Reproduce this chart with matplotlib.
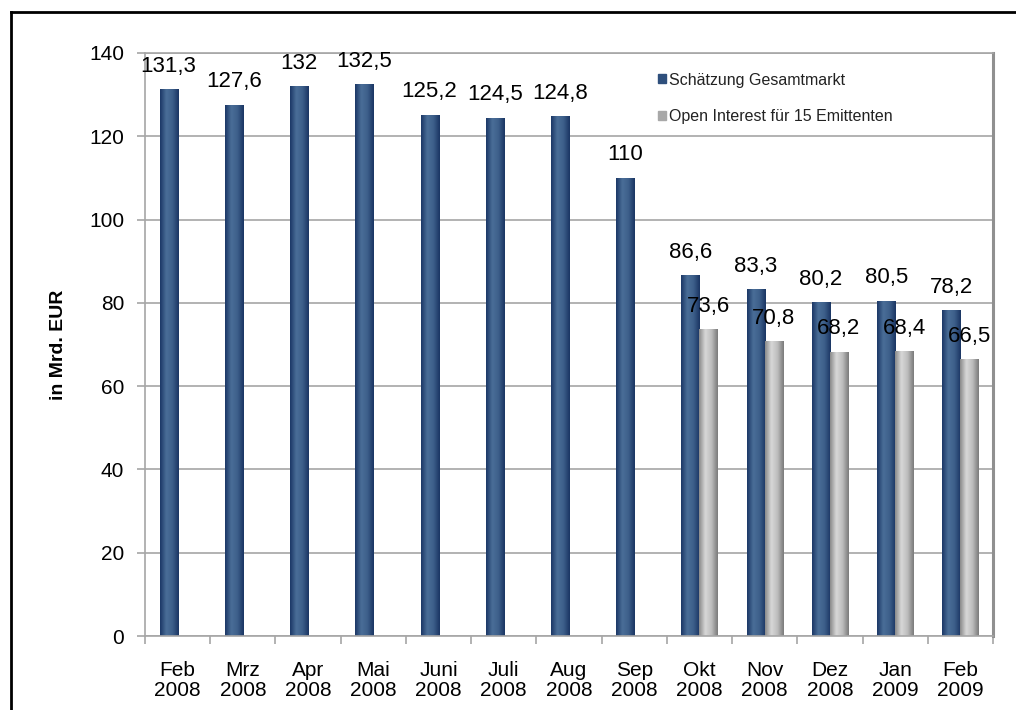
import matplotlib.pyplot as plt
import matplotlib.colors as mcolors
from matplotlib.lines import Line2D
import numpy as np

plt.rcParams['font.family'] = ['Liberation Sans', 'DejaVu Sans']

months = ['Feb', 'Mrz', 'Apr', 'Mai', 'Juni', 'Juli', 'Aug', 'Sep',
          'Okt', 'Nov', 'Dez', 'Jan', 'Feb']
years = ['2008'] * 11 + ['2009'] * 2
gesamtmarkt = [131.3, 127.6, 132, 132.5, 125.2, 124.5, 124.8, 110,
               86.6, 83.3, 80.2, 80.5, 78.2]
open_interest = [None] * 8 + [73.6, 70.8, 68.2, 68.4, 66.5]

series_names = ['Schätzung Gesamtmarkt', 'Open Interest für 15 Emittenten']


def fmt(v):
    s = ('%.1f' % v).rstrip('0').rstrip('.')
    return s.replace('.', ',')


blue_cmap = mcolors.LinearSegmentedColormap.from_list(
    'blue_bar', ['#1b3766', '#4a6e98', '#3d5f8a', '#1a3563'])
gray_cmap = mcolors.LinearSegmentedColormap.from_list(
    'gray_bar', ['#8a8a8a', '#d8d8d8', '#bdbdbd', '#7a7a7a'])
grad = np.linspace(0, 1, 64).reshape(1, -1)


def shaded_bars(ax, xs, vals, width, cmap, base_color):
    bars = ax.bar(xs, vals, width=width, align='edge', color=base_color,
                  linewidth=0, zorder=2)
    for b in bars:
        x0, w, h = b.get_x(), b.get_width(), b.get_height()
        im = ax.imshow(grad, extent=[x0, x0 + w, 0, h], aspect='auto',
                       cmap=cmap, interpolation='bicubic', zorder=2.1)
        im.set_clip_path(b)
    return bars


fig = plt.figure(figsize=(10.16, 7.10), dpi=100)
ax = fig.add_axes([0.1427, 0.1042, 0.8347, 0.8212])

n = len(months)
x = np.arange(n)
w = 0.276

shaded_bars(ax, x - w, gesamtmarkt, w, blue_cmap, '#2e4f7c')
oi_idx = [i for i, v in enumerate(open_interest) if v is not None]
oi_vals = [open_interest[i] for i in oi_idx]
shaded_bars(ax, np.array(oi_idx, dtype=float), oi_vals, w, gray_cmap, '#b0b0b0')

for i, v in enumerate(gesamtmarkt):
    ax.annotate(fmt(v), (x[i] - w / 2, v), xytext=(0, 9),
                textcoords='offset points', ha='center', va='bottom',
                fontsize=16, color='black', zorder=4)
for i, v in zip(oi_idx, oi_vals):
    ax.annotate(fmt(v), (x[i] + w / 2, v), xytext=(0, 9),
                textcoords='offset points', ha='center', va='bottom',
                fontsize=16, color='black', zorder=4)

ax.set_xlim(-0.5, n - 0.5)
ax.set_ylim(0, 140)
ax.set_yticks(np.arange(0, 141, 20))
ax.yaxis.grid(True, color='#a6a6a6', linewidth=1.2, zorder=0)
ax.set_axisbelow(True)

ax.set_xticks(np.arange(-0.5, n, 1.0))
ax.set_xticklabels([])
ax.set_xticks(x, minor=True)
ax.set_xticklabels([m + '\n' + y for m, y in zip(months, years)], minor=True,
                   fontsize=15, linespacing=1.08)
ax.tick_params(axis='x', which='minor', length=0, pad=18)
ax.tick_params(axis='x', which='major', length=6, color='#a6a6a6', width=1.2)
ax.tick_params(axis='y', length=6, color='#a6a6a6', width=1.2,
               labelsize=15, pad=9)

for side in ['left', 'bottom', 'top']:
    ax.spines[side].set_color('#a6a6a6')
    ax.spines[side].set_linewidth(1.2)
ax.spines['right'].set_color('#909090')
ax.spines['right'].set_linewidth(2.2)

ax.set_ylabel('in Mrd. EUR', fontsize=14, fontweight='bold')
ax.yaxis.set_label_coords(-0.092, 0.5)

# legend entries (no frame)
handles = [plt.Rectangle((0, 0), 1, 1, color='#2e4f7c'),
           plt.Rectangle((0, 0), 1, 1, color='#a8a8a8')]
leg = ax.legend(handles, series_names, loc='upper left',
                bbox_to_anchor=(0.588, 0.991), frameon=False, fontsize=11.5,
                handlelength=0.5, handleheight=0.5, handletextpad=0.2,
                labelspacing=1.35, labelcolor='#222222')

# outer frame (cut at right and bottom)
fig.add_artist(Line2D([0.011, 0.011], [0, 0.983], color='black', linewidth=2,
                      transform=fig.transFigure))
fig.add_artist(Line2D([0.011, 1.0], [0.983, 0.983], color='black', linewidth=2,
                      transform=fig.transFigure))

fig.savefig('out.png', dpi=100)
